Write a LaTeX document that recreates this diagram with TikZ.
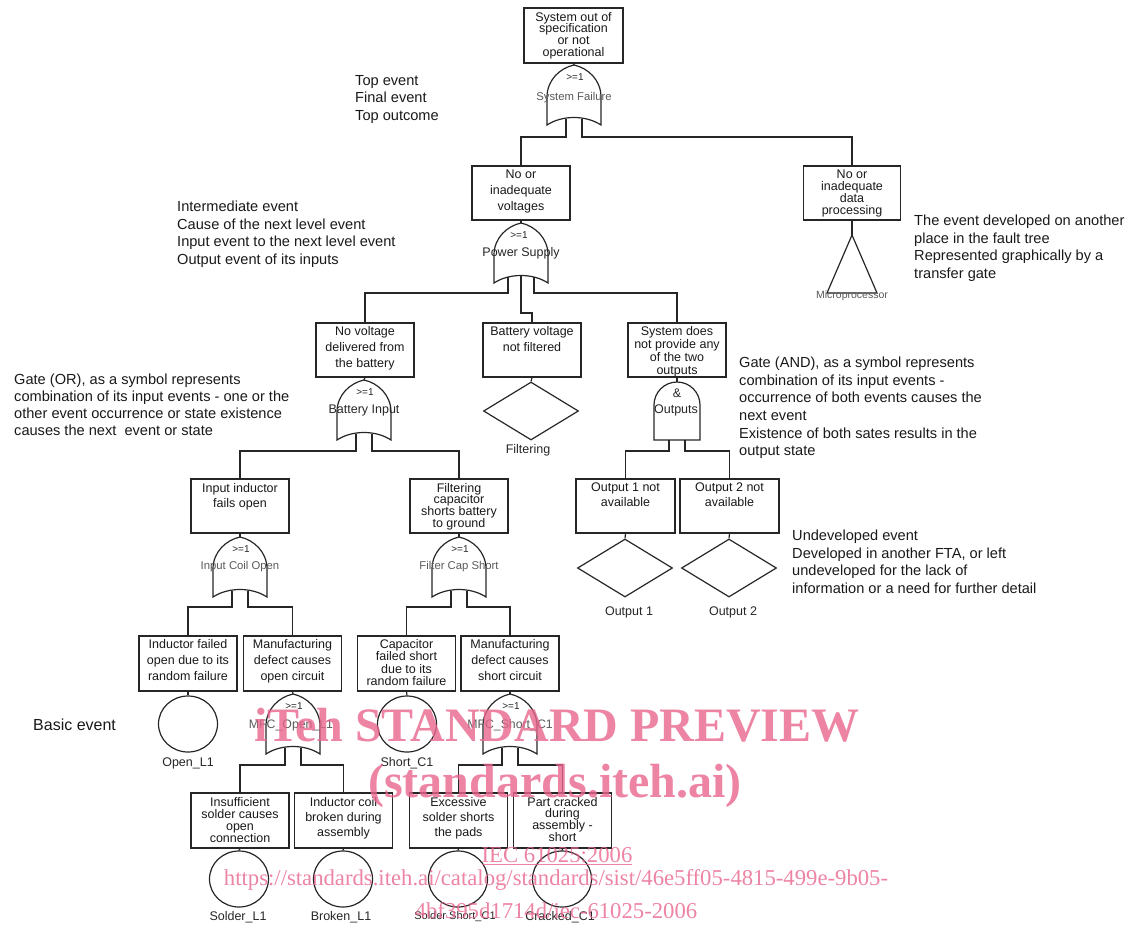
\documentclass[tikz,border=0pt]{standalone}
\usepackage{fontspec}
\setmainfont{Liberation Sans}
\newfontfamily\wmfont{Liberation Serif}
\usetikzlibrary{shapes.geometric}
\newcommand\fs[2]{\fontsize{#1}{#2}\selectfont}
\definecolor{wmpink}{RGB}{232,101,141}
\begin{document}
\begin{tikzpicture}[x=1pt,y=-1pt,
  ln/.style={line width=1.2pt, draw=black!85},
  box/.style={ln, rectangle, minimum width=98pt, minimum height=54pt, inner sep=0pt},
  btxt/.style={anchor=north, align=center, inner sep=0pt, text=black!90},
  note/.style={anchor=north west, align=left, inner sep=0pt, text=black!90, font=\fs{14.6}{17.5}},
  glab/.style={inner sep=0pt, text=black!65, font=\fs{11.3}{13}},
  gdark/.style={inner sep=0pt, text=black!85, font=\fs{12.5}{14}},
  gsym/.style={inner sep=0pt, text=black!85, font=\fs{10}{12}},
  evlab/.style={inner sep=0pt, text=black!85, font=\fs{12.5}{14}},
  basic/.style={ln, ellipse, minimum width=59pt, minimum height=56pt, inner sep=0pt},
  undev/.style={ln, diamond, minimum width=95pt, minimum height=58pt, inner sep=0pt},
  wm/.style={text=wmpink, text opacity=0.8, inner sep=0pt, anchor=base},
  orgate/.pic={
    \draw[ln] (0,0) .. controls (-14,3) and (-27,15) .. (-27,32) -- (-27,60)
      .. controls (-12,50) and (12,50) .. (27,60) -- (27,32)
      .. controls (27,15) and (14,3) .. (0,0) -- cycle;
    \coordinate (-top) at (0,0);
    \coordinate (-l) at (-8,53.5);
    \coordinate (-r) at (8,53.5);
    \coordinate (-L) at (-13,54);
    \coordinate (-R) at (13,54);
    \coordinate (-m) at (0,52.5);
  },
  andgate/.pic={
    \draw[ln] (-23,58) -- (-23,23) .. controls (-23,10.3) and (-12.7,0) .. (0,0)
      .. controls (12.7,0) and (23,10.3) .. (23,23) -- (23,58) -- cycle;
    \coordinate (-top) at (0,0);
    \coordinate (-l) at (-8,58);
    \coordinate (-r) at (8,58);
  }
]
\useasboundingbox (0,0) rectangle (1129,929);

% ---------- boxes ----------
\node[box, minimum width=99pt, minimum height=55pt] (top) at (573.5,35.5) {};
\node[btxt, font=\fs{12.5}{11.7}] at ([yshift=-4.5pt]top.north) {System out of\\specification\\or not\\operational};
\node[box] (volt) at (521,193) {};
\node[btxt, font=\fs{12.5}{16}] at ([yshift=-4pt]volt.north) {No or\\inadequate\\voltages};
\node[box, minimum width=97pt] (data) at (852,193) {};
\node[btxt, font=\fs{12.5}{12}] at ([yshift=-4pt]data.north) {No or\\inadequate\\data\\processing};

\node[box] (novolt) at (365,350) {};
\node[btxt, font=\fs{12.5}{16}] at ([yshift=-4pt]novolt.north) {No voltage\\delivered from\\the battery};
\node[box] (battv) at (532,350) {};
\node[btxt, font=\fs{12.5}{16}] at ([yshift=-4pt]battv.north) {Battery voltage\\not filtered};
\node[box] (sys) at (677,350) {};
\node[btxt, font=\fs{12.5}{13}] at ([yshift=-4pt]sys.north) {System does\\not provide any\\of the two\\outputs};

\node[box] (induc) at (240,506) {};
\node[btxt, font=\fs{12.5}{15}] at ([yshift=-4.5pt]induc.north) {Input inductor\\fails open};
\node[box] (fcap) at (459,506) {};
\node[btxt, font=\fs{12.5}{11.7}] at ([yshift=-4.5pt]fcap.north) {Filtering\\capacitor\\shorts battery\\to ground};
\node[box, minimum width=99pt] (out1) at (625.5,506) {};
\node[btxt, font=\fs{12.5}{15}] at ([yshift=-4.5pt]out1.north) {Output 1 not\\available};
\node[box, minimum width=99pt] (out2) at (729.5,506) {};
\node[btxt, font=\fs{12.5}{15}] at ([yshift=-4.5pt]out2.north) {Output 2 not\\available};

\node[box, minimum height=55pt] (indf) at (188,663.5) {};
\node[btxt, font=\fs{12.5}{16}] at ([yshift=-4pt]indf.north) {Inductor failed\\open due to its\\random failure};
\node[box, minimum height=55pt] (mfco) at (292.5,663.5) {};
\node[btxt, font=\fs{12.5}{16}] at ([yshift=-4pt]mfco.north) {Manufacturing\\defect causes\\open circuit};
\node[box, minimum height=55pt] (capf) at (406.5,663.5) {};
\node[btxt, font=\fs{12.5}{12.3}] at ([yshift=-4pt]capf.north) {Capacitor\\failed short\\due to its\\random failure};
\node[box, minimum height=55pt] (mfcs) at (510,663.5) {};
\node[btxt, font=\fs{12.5}{16}] at ([yshift=-4pt]mfcs.north) {Manufacturing\\defect causes\\short circuit};

\node[box, minimum height=55pt] (insuff) at (240,820.5) {};
\node[btxt, font=\fs{12.5}{12}] at ([yshift=-4.5pt]insuff.north) {Insufficient\\solder causes\\open\\connection};
\node[box, minimum height=55pt] (coil) at (343.5,820.5) {};
\node[btxt, font=\fs{12.5}{15}] at ([yshift=-4.5pt]coil.north) {Inductor coil\\broken during\\assembly};
\node[box, minimum height=55pt] (excess) at (458.5,820.5) {};
\node[btxt, font=\fs{12.5}{15}] at ([yshift=-4.5pt]excess.north) {Excessive\\solder shorts\\the pads};
\node[box, minimum height=55pt] (crack) at (562.5,820.5) {};
\node[btxt, font=\fs{12.5}{11.7}] at ([yshift=-4.5pt]crack.north) {Part cracked\\during\\assembly -\\short};

% ---------- gates ----------
\pic (g0) at (574,65) {orgate};
\node[gsym] at (575,77) {>=1};
\node[glab] at (574,98) {System Failure};
\pic (g1) at (521,223) {orgate};
\node[gsym] at (519,235) {>=1};
\node[gdark] at (521,253) {Power Supply};
\pic (g2) at (364,380) {orgate};
\node[gsym] at (365,392) {>=1};
\node[gdark] at (364,410) {Battery Input};
\pic (ga) at (677,382) {andgate};
\node[gdark] at (677,393) {\&};
\node[gdark] at (676,410) {Outputs};
\pic (g3) at (240,537) {orgate};
\node[gsym] at (241,549) {>=1};
\node[glab] at (240,567) {Input Coil Open};
\pic (g4) at (459,537) {orgate};
\node[gsym] at (460,549) {>=1};
\node[glab] at (459,567) {Filter Cap Short};
\pic (g5) at (293,694) {orgate};
\node[gsym] at (294,706) {>=1};
\node[glab, font=\fs{12.3}{14}] at (291,725) {MFC\_Open\_L1};
\pic (g6) at (510,694) {orgate};
\node[gsym] at (511,706) {>=1};
\node[glab, font=\fs{12.3}{14}] at (510,725) {MFC\_Short\_C1};

% ---------- other symbols ----------
\coordinate (tri) at (852,235);
\draw[ln] (tri) -- (877,293) -- (827,293) -- cycle;
\node[glab, font=\fs{10.5}{12}] at (852,296) {Microprocessor};
\node[undev] (dfilt) at (531,411) {};
\node[evlab] at (528,450) {Filtering};
\node[undev] (d1) at (625,568) {};
\node[evlab] at (629,612) {Output 1};
\node[undev] (d2) at (729,568) {};
\node[evlab] at (733,612) {Output 2};
\node[basic] (c1) at (188,724) {};
\node[evlab] at (188,763) {Open\_L1};
\node[basic] (c2) at (407,724) {};
\node[evlab] at (407,763) {Short\_C1};
\node[basic] (c3) at (239,879) {};
\node[evlab] at (238,917) {Solder\_L1};
\node[basic] (c4) at (343,879) {};
\node[evlab] at (341,917) {Broken\_L1};
\node[basic] (c5) at (458,879) {};
\node[evlab, font=\fs{11}{13}] at (455,917) {Solder Short\_C1};
\node[basic] (c6) at (562,879) {};
\node[evlab] at (560,917) {Cracked\_C1};

% ---------- connectors ----------
\draw[ln] (top.south) -- (g0-top);
\draw[ln] (g0-l) -- (g0-l |- 0,137) -| (volt.north);
\draw[ln] (g0-r) -- (g0-r |- 0,137) -| (data.north);
\draw[ln] (volt.south) -- (g1-top);
\draw[ln] (data.south) -- (tri);
\draw[ln] (g1-L) -- (g1-L |- 0,293) -| (novolt.north);
\draw[ln] (g1-m) -- (g1-m |- 0,313) -| (battv.north);
\draw[ln] (g1-R) -- (g1-R |- 0,293) -| (sys.north);
\draw[ln] (novolt.south) -- (g2-top);
\draw[ln] (battv.south) -- (dfilt.north);
\draw[ln] (sys.south) -- (ga-top);
\draw[ln] (g2-l) -- (g2-l |- 0,451) -| (induc.north);
\draw[ln] (g2-r) -- (g2-r |- 0,451) -| (fcap.north);
\draw[ln] (ga-l) -- (ga-l |- 0,451) -| (out1.north);
\draw[ln] (ga-r) -- (ga-r |- 0,451) -| (out2.north);
\draw[ln] (induc.south) -- (g3-top);
\draw[ln] (fcap.south) -- (g4-top);
\draw[ln] (out1.south) -- (d1.north);
\draw[ln] (out2.south) -- (d2.north);
\draw[ln] (g3-l) -- (g3-l |- 0,607) -| (indf.north);
\draw[ln] (g3-r) -- (g3-r |- 0,607) -| (mfco.north);
\draw[ln] (g4-l) -- (g4-l |- 0,607) -| (capf.north);
\draw[ln] (g4-r) -- (g4-r |- 0,607) -| (mfcs.north);
\draw[ln] (indf.south) -- (c1.north);
\draw[ln] (capf.south) -- (c2.north);
\draw[ln] (mfco.south) -- (g5-top);
\draw[ln] (mfcs.south) -- (g6-top);
\draw[ln] (g5-l) -- (g5-l |- 0,765) -| (insuff.north);
\draw[ln] (g5-r) -- (g5-r |- 0,765) -| (coil.north);
\draw[ln] (g6-l) -- (g6-l |- 0,765) -| (excess.north);
\draw[ln] (g6-r) -- (g6-r |- 0,765) -| (crack.north);
\draw[ln] (insuff.south) -- (c3.north);
\draw[ln] (coil.south) -- (c4.north);
\draw[ln] (excess.south) -- (c5.north);
\draw[ln] (crack.south) -- (c6.north);

% ---------- annotations ----------
\node[note] (n1) at (355,75) {Top event\\Final event\\Top outcome};
\node[note] (n2) at (177,201) {Intermediate event\\Cause of the next level event\\Input event to the next level event\\Output event of its inputs};
\node[note] (n3) at (914,215) {The event developed on another\\place in the fault tree\\Represented graphically by a\\transfer gate};
\node[note, font=\fs{14.6}{17}] (n4) at (14,374) {Gate (OR), as a symbol represents\\combination of its input events - one or the\\other event occurrence or state existence\\causes the next\ \ event or state};
\node[note, font=\fs{14.6}{17.6}] (n5) at (739,357) {Gate (AND), as a symbol represents\\combination of its input events -\\occurrence of both events causes the\\next event\\Existence of both sates results in the\\output state};
\node[note] (n6) at (792,530) {Undeveloped event\\Developed in another FTA, or left\\undeveloped for the lack of\\information or a need for further detail};
\node[inner sep=0pt, anchor=west, text=black!90, font=\fs{16}{18}] (n7) at (33,725) {Basic event};

% ---------- watermark ----------
\node[wm, font=\wmfont\bfseries\fs{48}{50}] (w1) at (557,741) {iTeh STANDARD PREVIEW};
\node[wm, font=\wmfont\bfseries\fs{48}{50}] (w2) at (555,797) {(standards.iteh.ai)};
\node[wm, font=\wmfont\fs{22.7}{25}] (w3) at (557,862) {\underline{IEC 61025:2006}};
\node[wm, font=\wmfont\fs{22.7}{25}] (w4) at (556,885) {https://standards.iteh.ai/catalog/standards/sist/46e5ff05-4815-499e-9b05-};
\node[wm, font=\wmfont\fs{22.7}{25}] (w5) at (556,918) {4bf395d1714d/iec-61025-2006};
\end{tikzpicture}
\end{document}
